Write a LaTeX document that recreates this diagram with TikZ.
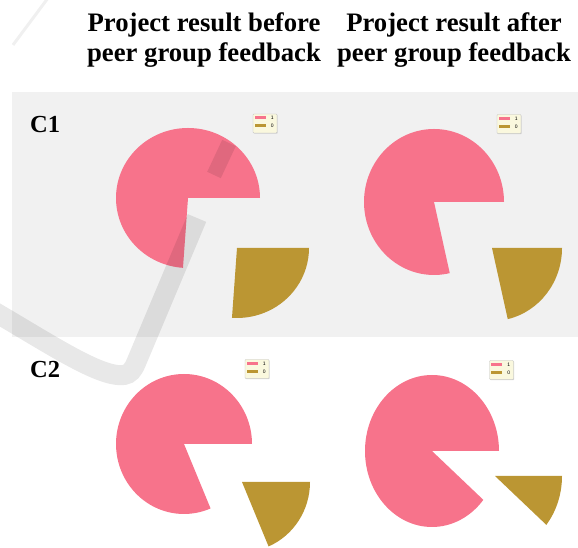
\documentclass[tikz,border=0pt]{standalone}
\usepackage{fontspec}
\setmainfont{Liberation Serif}
\newfontfamily\keyfont{Liberation Sans}
\usetikzlibrary{shadows}

\definecolor{slicePink}{RGB}{247,115,139}
\definecolor{sliceGold}{RGB}{187,150,51}
\definecolor{bandGray}{RGB}{241,241,241}
\definecolor{keyFill}{RGB}{250,248,222}

\begin{document}
\begin{tikzpicture}
[x=1pt,y=1pt,
  titleDecorate/.style={font=\fontsize{26.7}{30}\selectfont\bfseries,anchor=base,inner sep=0pt},%
  rowDecorate/.style={font=\fontsize{24.5}{28}\selectfont\bfseries,anchor=base west,inner sep=0pt},%
  swooshDecorate/.style={line width=20pt,black,opacity=0.09},%
  keyDecorate/.style={draw=black!25,fill=keyFill,minimum width=24pt,minimum height=19pt,inner sep=0pt,
    rounded corners=0.8pt,drop shadow={shadow xshift=0.7pt,shadow yshift=-0.7pt,fill=black!30}},%
  keyText/.style={font=\keyfont\fontsize{5}{5}\selectfont,inner sep=0pt}]
\useasboundingbox (0,0) rectangle (578,548);
%% grey band behind the first row
\fill[bandGray] (12,211) rectangle (578,456);
%% pies: centre, radii, cut angle, shift of the small slice
\foreach \cx/\cy/\rx/\ry/\a/\dx/\dy in {188/350/72/70/-94/49/-50, 434/346/70/73/-77/58/-46,
  184/104/68/70/-67/58/-38, 432/97/67/76/-40/63/-25}
{
  \fill[slicePink] (\cx,\cy) -- ++(\rx,0) arc[start angle=0,end angle=360+\a,x radius=\rx pt,y radius=\ry pt] -- cycle;
  \fill[sliceGold] (\cx+\dx,\cy+\dy) -- ++(\a:\rx pt and \ry pt) arc[start angle=\a,end angle=0,x radius=\rx pt,y radius=\ry pt] -- cycle;
}
%% faint swoosh over the band
\draw[swooshDecorate] (-12,240) .. controls (50,204) and (100,170) .. (124,173) .. controls (130,174) and (133,178) .. (136,185) -- (197,330);
\draw[swooshDecorate,line width=15pt] (214,373) -- (229,405);
\draw[line width=3pt,black,opacity=0.06] (48,550) -- (13,503);
%% legends
\foreach \keyname/\x/\y in {keyBefore1/265/424.5, keyAfter1/509/424, keyBefore2/257/179, keyAfter2/501.5/178}
{
  \node[keyDecorate] (\keyname) at (\x,\y) {};
  \fill[slicePink] ([xshift=2pt,yshift=-2.5pt]\keyname.north west) rectangle ++(11,-3);
  \fill[sliceGold] ([xshift=2pt,yshift=-10.5pt]\keyname.north west) rectangle ++(11,-3);
  \node[keyText] (\keyname-one) at ([xshift=-5pt,yshift=-4pt]\keyname.north east) {1};
  \node[keyText] (\keyname-zero) at ([xshift=-5pt,yshift=-12pt]\keyname.north east) {0};
}
%% column titles and row labels
\foreach \name/\x/\y/\txt in {titleBefore/204/516/Project result before, titleBeforeSub/204/486/peer group feedback,
  titleAfter/454/516/Project result after, titleAfterSub/454/486/peer group feedback}
{
  \node[titleDecorate] (\name) at (\x,\y) {\txt};
}
\node[rowDecorate] (rowC1) at (30,415) {C1};
\node[rowDecorate] (rowC2) at (30,170) {C2};
\end{tikzpicture}
\end{document}
